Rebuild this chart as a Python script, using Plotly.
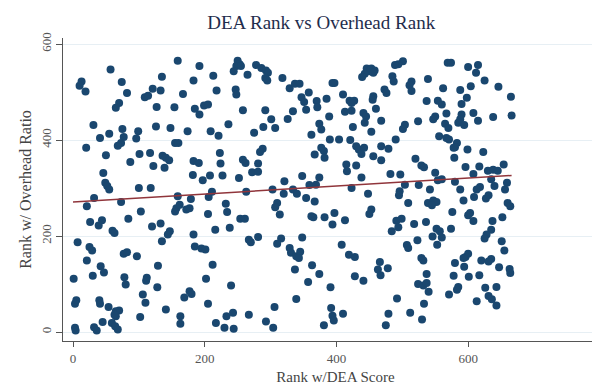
import plotly.graph_objects as go

# Rank by DEA score (x) and rank by overhead ratio (y)
dea_rank = [
    159, 57, 13, 10, 19, 74, 135, 82, 121, 133, 109, 114, 70, 65, 127, 154, 31, 75, 55, 41, 99, 96, 126, 148, 77,
    73, 68, 20, 50, 155, 160, 101, 117, 87, 136, 141, 146, 122, 139, 46, 49, 52, 55, 100, 118,
    32, 21, 73, 157, 155, 103, 26, 44, 39, 84, 60, 63, 120, 133, 147, 144, 135, 7, 25, 29, 77, 82, 97, 21, 42,
    47, 129, 30, 1, 78, 80, 112, 111, 128, 106, 110, 5, 3, 40, 41, 54, 70, 65, 65, 63, 45, 59, 64, 68, 102,
    141, 163, 163, 3, 4, 32, 36,
    192, 250, 253, 248, 255, 244, 278, 286, 293, 296, 292, 295, 213, 265, 183, 318, 329, 167, 218, 247,
    248, 185, 192, 199, 205, 258, 292, 334, 326, 301, 307, 236, 289, 174, 209, 221, 275, 223, 288, 284,
    183, 191, 224, 258, 262, 281, 182, 197, 208, 227, 252, 272, 281, 321, 211, 263, 303, 334,
    159, 179, 206, 320, 162, 172, 177, 232, 234, 205, 310, 307, 314, 254, 261, 216, 238, 183, 267, 270,
    281, 185, 195, 201, 316, 310, 329, 331, 339, 212, 202, 240, 337, 169, 177, 180, 205, 339, 233, 243,
    267, 306, 217, 230, 244, 293, 304,
    501, 494, 489, 446, 453, 458, 451, 443, 439, 456, 485, 487, 514, 511, 337, 344, 394, 397, 358, 473,
    476, 347, 351, 410, 385, 370, 371, 420, 427, 423, 456, 455, 460, 354, 389, 413, 423, 441, 445, 443,
    468, 504, 501, 374, 377, 425, 453, 362, 390, 404, 421, 490, 377, 381, 430, 434, 442, 438, 468, 479,
    367, 382, 456, 468, 415, 416, 430, 348, 374, 438, 482, 497, 359, 369, 423, 504, 496,
    340, 354, 367, 448, 495, 509, 362, 365, 382, 397, 394, 413, 453, 450, 491, 499, 494, 484, 348, 408,
    507, 509, 345, 343, 419, 428, 466, 463, 467, 478, 363, 374, 357, 428, 441, 391, 492, 392, 394, 396,
    410, 479, 381, 475, 512,
    569, 574, 600, 615, 612, 625, 514, 539, 562, 588, 604, 646, 598, 590, 554, 560, 537, 665, 608, 615,
    567, 550, 547, 590, 588, 585, 594, 524, 638, 666, 565, 570, 556, 567, 571, 583, 580, 578, 599, 623,
    520, 529, 533, 579, 596, 617, 630, 638, 645, 654, 608, 550, 554, 560, 580, 525, 635, 659, 656, 618,
    613, 640, 542, 588,
    539, 547, 552, 545, 593, 631, 627, 609, 660, 664, 576, 603, 600, 608, 652, 637, 635, 518, 536, 574,
    552, 557, 560, 546, 553, 628, 625, 651, 655, 523, 600, 596, 593, 580, 529, 532, 620, 635, 631, 594,
    663, 664, 647, 537, 578, 601, 617, 524, 532, 537, 540, 585, 583, 571, 626, 643, 631, 636, 613, 643,
    533, 530,
]
overhead_rank = [
    565, 547, 522, 513, 501, 521, 532, 498, 507, 503, 489, 492, 477, 467, 469, 468, 431, 423, 413, 404, 418, 403, 428, 425, 406,
    394, 388, 384, 368, 394, 394, 371, 373, 354, 367, 363, 358, 346, 342, 331, 311, 304, 297, 300, 300,
    279, 262, 271, 258, 251, 251, 229, 233, 222, 236, 211, 206, 220, 226, 210, 203, 189, 187, 177, 170, 163, 166, 158, 149, 137,
    124, 138, 117, 111, 114, 99, 113, 107, 93, 78, 61, 66, 59, 66, 59, 52, 45, 43, 33, 36, 21, 19, 12, 5, 31,
    47, 33, 17, 9, 3, 10, 3,
    554, 565, 558, 554, 554, 543, 556, 550, 545, 540, 529, 524, 534, 536, 524, 529, 508, 496, 503, 505,
    495, 465, 453, 472, 474, 462, 462, 460, 444, 443, 425, 433, 427, 418, 418, 409, 415, 373, 382, 375,
    356, 352, 351, 359, 352, 351, 327, 316, 326, 326, 321, 333, 334, 314, 292, 292, 297, 297,
    283, 277, 281, 288, 265, 255, 258, 267, 250, 246, 269, 260, 245, 236, 236, 213, 217, 203, 192, 187,
    198, 178, 174, 172, 195, 184, 175, 165, 158, 140, 111, 97, 130, 72, 85, 79, 59, 69, 33, 40,
    36, 52, 19, 9, 7, 22, 9,
    564, 558, 556, 549, 549, 545, 543, 538, 531, 540, 533, 522, 522, 514, 517, 517, 519, 519, 499, 505,
    498, 489, 479, 495, 486, 481, 468, 482, 482, 477, 491, 484, 465, 463, 449, 459, 461, 456, 449, 436,
    440, 432, 423, 434, 422, 427, 417, 411, 401, 401, 400, 401, 384, 377, 387, 380, 384, 371, 387, 382,
    370, 363, 366, 358, 349, 335, 347, 325, 322, 322, 329, 328, 306, 307, 300, 307, 293,
    288, 279, 272, 288, 285, 269, 241, 239, 239, 248, 224, 233, 255, 246, 232, 236, 218, 210, 197, 182,
    181, 175, 167, 154, 161, 156, 146, 130, 118, 133, 139, 121, 104, 116, 107, 93, 70, 50, 34, 24,
    38, 38, 14, 14, 40,
    561, 561, 552, 556, 540, 524, 502, 527, 508, 504, 512, 511, 488, 475, 482, 474, 481, 490, 456, 440,
    455, 449, 443, 453, 443, 436, 431, 439, 448, 451, 434, 425, 408, 404, 401, 394, 385, 384, 380, 375,
    361, 347, 343, 363, 344, 345, 336, 338, 336, 349, 329, 332, 316, 318, 313, 306, 318, 311, 297, 302,
    297, 304, 297, 297,
    269, 274, 271, 264, 274, 285, 278, 281, 269, 262, 250, 248, 243, 231, 239, 231, 213, 225, 229, 215,
    215, 210, 197, 199, 182, 203, 195, 189, 170, 191, 163, 156, 154, 144, 154, 149, 149, 152, 147, 136,
    131, 123, 135, 121, 117, 115, 118, 100, 97, 102, 84, 94, 88, 78, 92, 94, 75, 68, 64, 55,
    59, 26,
]

# Fitted line end points
fit_x = [0, 666]
fit_y = [271, 326]

x_ticks = [0, 200, 400, 600, 800]
y_ticks = [0, 200, 400, 600]

SERIF = "Liberation Serif"

fig = go.Figure()
fig.add_trace(go.Scatter(
    x=dea_rank, y=overhead_rank, mode="markers",
    marker=dict(color="#1a476f", size=8, line=dict(width=0)),
    showlegend=False, hoverinfo="x+y",
))
fig.add_trace(go.Scatter(
    x=fit_x, y=fit_y, mode="lines",
    line=dict(color="#90353b", width=1.5),
    showlegend=False,
))

fig.update_layout(
    width=600, height=387,
    paper_bgcolor="white", plot_bgcolor="white",
    margin=dict(l=55, r=0, t=30, b=54),
    title=dict(text="DEA Rank vs Overhead Rank", x=0.522, xanchor="center",
               y=0.98, yanchor="top", pad=dict(t=0, b=0),
               font=dict(family=SERIF, size=19, color="#1f2d4d")),
    font=dict(family=SERIF),
    xaxis=dict(
        range=[-15.2, 812.4], tickvals=x_ticks, ticktext=[str(v) for v in x_ticks],
        ticks="outside", ticklen=5, tickcolor="#555", tickwidth=1,
        showline=True, linecolor="#555", linewidth=1.3,
        showgrid=False, zeroline=False,
        tickfont=dict(family=SERIF, size=13, color="#555"),
        title=dict(text="Rank w/DEA Score", standoff=6,
                   font=dict(family=SERIF, size=15, color="#444")),
    ),
    yaxis=dict(
        range=[-18.75, 612.5], tickvals=y_ticks, ticktext=[str(v) for v in y_ticks],
        tickangle=-90,
        ticks="outside", ticklen=6, tickcolor="#555", tickwidth=1,
        showline=True, linecolor="#555", linewidth=1.3,
        showgrid=True, gridcolor="#e7eff4", gridwidth=1, zeroline=False,
        tickfont=dict(family=SERIF, size=13, color="#555"),
        title=dict(text="Rank w/ Overhead Ratio", standoff=3,
                   font=dict(family=SERIF, size=16, color="#444")),
    ),
)

fig.write_html("out.html")
